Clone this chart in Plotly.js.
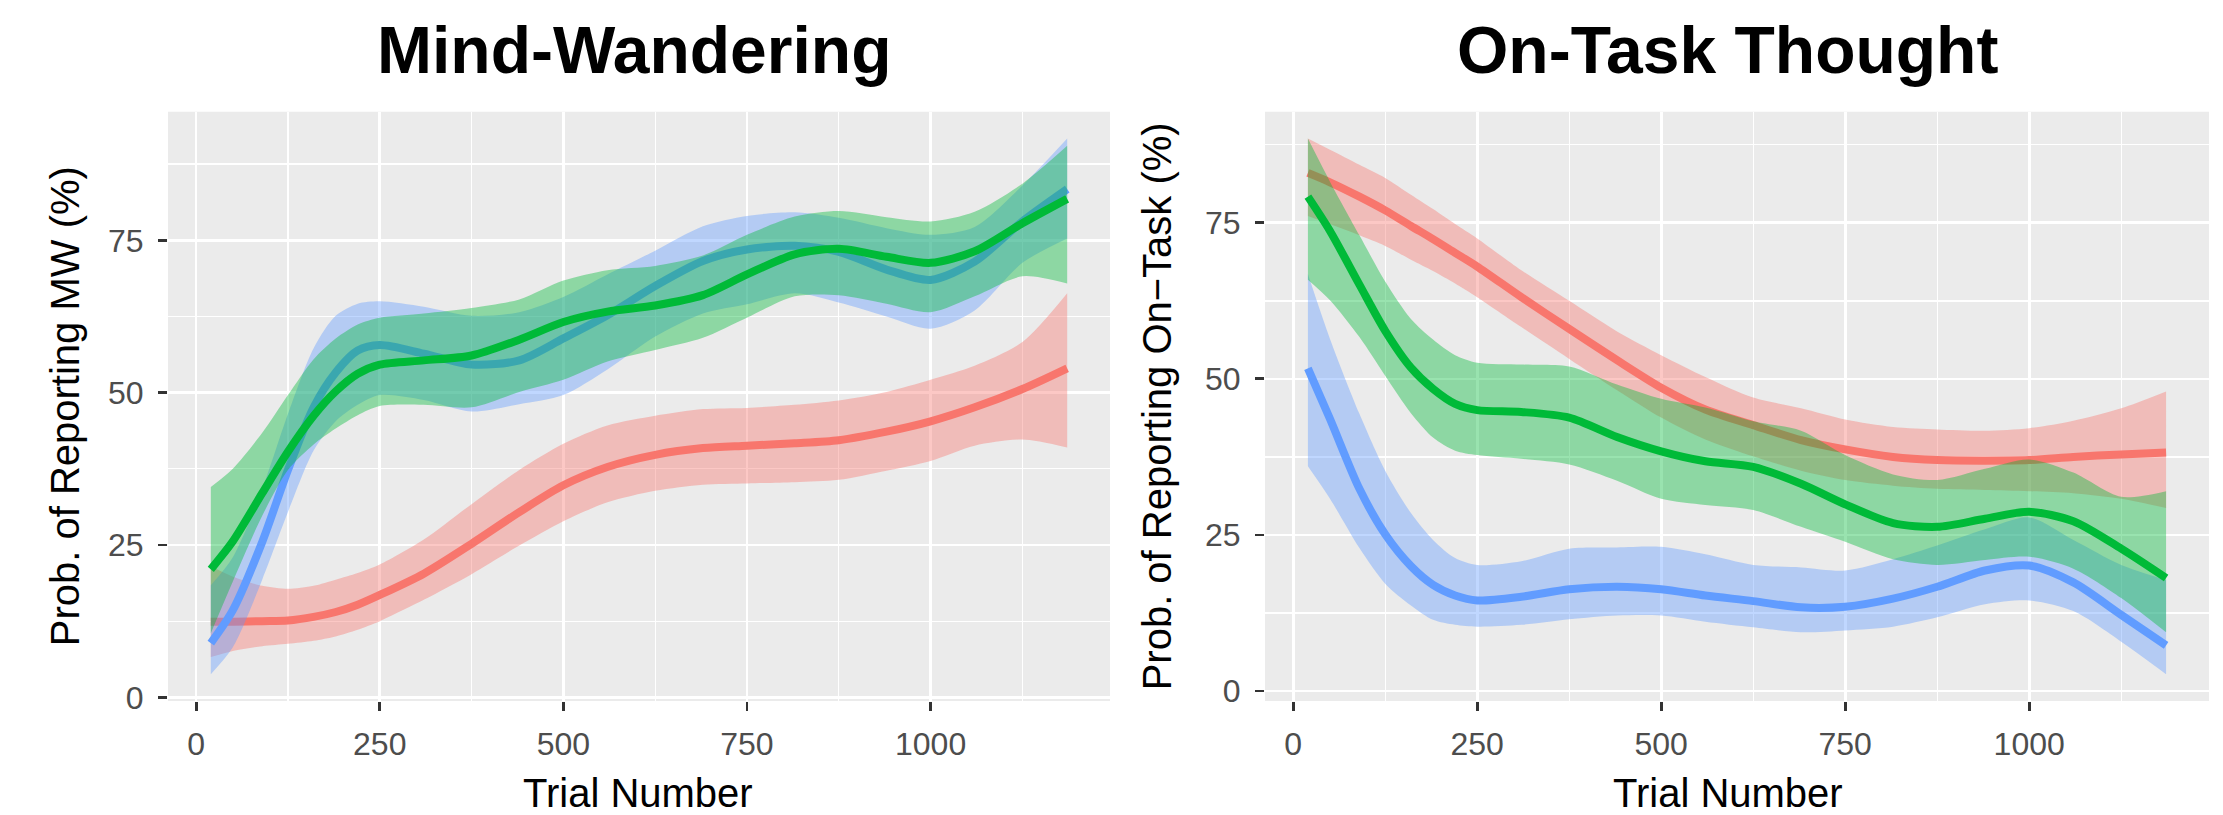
<!DOCTYPE html>
<html><head><meta charset="utf-8">
<script src="https://cdn.plot.ly/plotly-3.0.1.min.js"></script>
<style>html,body{margin:0;padding:0;background:#fff}</style>
</head><body><div id="chart" style="width:2223px;height:815px"></div>
<script>
// Trial numbers at which the smooth curves were read
const trial = [20,50,90,125,160,190,220,250,310,375,440,500,560,625,690,750,815,875,940,1000,1060,1125,1186];

// Mind-Wandering panel
const mwRedFit   = [12.4,12.4,12.5,12.6,13.2,14.0,15.2,16.8,20.3,25.2,30.4,34.8,37.8,39.8,40.9,41.3,41.7,42.2,43.6,45.3,47.6,50.6,54.0];
const mwRedUpper = [21.5,19.8,18.3,17.8,18.3,19.3,20.4,21.8,25.9,31.7,37.3,41.6,44.6,46.2,47.3,47.5,48.0,48.7,50.1,52.1,54.4,58.3,66.3];
const mwRedLower = [6.6,7.6,8.4,8.8,9.3,10.0,11.1,12.5,16.0,20.2,24.9,28.9,32.0,33.9,34.9,35.1,35.3,35.7,37.2,38.8,41.3,42.3,41.0];

const mwGreenFit   = [21.0,25.6,33.5,40.3,46.2,50.2,53.1,54.6,55.3,56.1,58.7,61.6,63.3,64.3,66.0,69.4,72.7,73.6,72.3,71.3,73.2,77.8,81.8];
const mwGreenUpper = [34.5,37.5,43.4,49.6,55.5,58.9,61.2,62.3,63.0,63.9,65.3,68.4,70.1,70.8,72.5,75.9,78.9,79.8,78.8,78.1,79.7,84.3,90.5];
const mwGreenLower = [10.5,19.0,29.8,37.3,41.5,44.1,46.3,47.8,48.0,47.6,50.1,52.1,55.1,57.0,59.0,62.3,65.8,66.0,64.6,63.2,65.8,69.1,67.9];

const mwBlueFit   = [8.9,14.3,25.5,37.3,47.6,53.3,56.9,57.8,56.4,54.6,55.3,58.9,62.7,67.5,71.6,73.5,74.1,73.1,70.2,68.5,71.5,78.1,83.4];
const mwBlueUpper = [18.4,23.0,34.2,46.5,57.3,62.6,64.6,65.0,64.1,62.6,63.2,65.7,69.4,73.3,77.3,79.0,79.6,78.7,77.0,75.9,77.2,84.0,91.7];
const mwBlueLower = [3.8,8.2,19.3,30.4,40.5,45.3,48.0,49.6,48.8,46.9,48.1,49.6,53.8,59.2,63.0,64.5,66.3,64.8,62.5,60.5,63.5,71.3,75.3];

// On-Task Thought panel
const otRedFit   = [83.0,81.5,79.2,77.0,74.5,72.4,70.2,68.0,63.1,58.0,53.0,48.6,45.1,42.6,40.2,38.7,37.5,37.0,36.9,37.0,37.5,37.9,38.2];
const otRedUpper = [88.5,86.7,84.3,82.2,79.5,77.2,74.8,72.5,67.4,62.5,57.6,53.8,50.3,47.0,45.3,43.5,42.3,41.9,41.7,42.1,43.3,45.3,48.0];
const otRedLower = [76.1,74.8,73.0,71.3,69.1,67.3,65.3,63.1,58.3,53.2,48.2,43.8,40.3,37.6,35.3,33.8,32.9,32.4,32.2,32.0,31.7,30.8,29.3];

const otGreenFit   = [79.2,73.7,65.1,57.7,51.8,48.4,46.0,45.0,44.7,43.8,40.7,38.4,36.8,35.9,33.2,29.9,26.9,26.3,27.6,28.7,27.2,22.8,18.1];
const otGreenUpper = [88.5,81.6,73.0,65.6,59.6,56.3,53.8,52.6,52.3,52.0,49.1,46.8,45.4,43.2,41.7,37.8,34.7,33.8,35.6,37.1,35.0,31.1,32.0];
const otGreenLower = [65.9,62.6,56.7,50.5,44.5,40.6,38.5,37.8,37.2,36.3,33.7,30.8,29.8,29.0,26.3,23.9,21.1,20.2,21.0,21.5,19.6,14.9,9.4];

const otBlueFit   = [51.7,43.6,32.4,25.1,20.0,17.0,15.3,14.5,15.1,16.3,16.7,16.3,15.3,14.4,13.4,13.5,14.8,16.7,19.3,20.1,17.4,12.2,7.3];
const otBlueUpper = [66.8,56.4,44.4,35.3,28.5,24.2,21.3,20.2,20.8,22.8,23.0,23.1,21.9,20.2,19.8,19.3,21.1,23.3,25.9,27.8,24.2,20.2,17.8];
const otBlueLower = [36.0,30.8,22.9,17.2,13.7,11.4,10.6,10.3,10.6,11.5,12.1,12.1,11.1,10.2,9.4,9.7,10.3,11.8,13.9,14.5,12.8,7.9,2.7];

const xTicks = [0,250,500,750,1000];
const yTicks = [0,25,50,75];

const colors = {red:'#F8766D', green:'#00BA38', blue:'#619CFF'};
const fills  = {red:'rgba(248,118,109,0.4)', green:'rgba(0,186,56,0.4)', blue:'rgba(97,156,255,0.4)'};

function band(name, color, lower, upper, fit, xa, ya) {
  return [
    {x: trial, y: lower, xaxis: xa, yaxis: ya, type: 'scatter', mode: 'lines',
     line: {width: 0, shape: 'spline', smoothing: 0.8}, hoverinfo: 'skip', showlegend: false},
    {x: trial, y: upper, xaxis: xa, yaxis: ya, type: 'scatter', mode: 'lines', fill: 'tonexty',
     fillcolor: fills[color], line: {width: 0, shape: 'spline', smoothing: 0.8}, hoverinfo: 'skip', showlegend: false},
    {x: trial, y: fit, xaxis: xa, yaxis: ya, type: 'scatter', mode: 'lines', name: name,
     line: {color: colors[color], width: 8, shape: 'spline', smoothing: 0.8}, showlegend: false}
  ];
}

const data = [].concat(
  band('Red group', 'red', mwRedLower, mwRedUpper, mwRedFit, 'x', 'y'),
  band('Blue group', 'blue', mwBlueLower, mwBlueUpper, mwBlueFit, 'x', 'y'),
  band('Green group', 'green', mwGreenLower, mwGreenUpper, mwGreenFit, 'x', 'y'),
  band('Red group', 'red', otRedLower, otRedUpper, otRedFit, 'x2', 'y2'),
  band('Blue group', 'blue', otBlueLower, otBlueUpper, otBlueFit, 'x2', 'y2'),
  band('Green group', 'green', otGreenLower, otGreenUpper, otGreenFit, 'x2', 'y2')
);

const font = 'Liberation Sans, Arial, Helvetica, sans-serif';
function xAxis(domain, anchor) {
  return {domain: domain, anchor: anchor, range: [-38.3, 1244.3], tickvals: xTicks, ticktext: xTicks.map(String),
    ticks: 'outside', ticklen: 9, tickwidth: 2.8, tickcolor: '#333333',
    tickfont: {family: font, size: 32, color: '#4D4D4D'}, ticklabelstandoff: 6,
    showgrid: true, gridcolor: '#FFFFFF', gridwidth: 2.7, zeroline: false, showline: false,
    minor: {dtick: 125, tick0: 0, showgrid: true, gridcolor: '#FFFFFF', gridwidth: 1.3, ticks: ''},
    fixedrange: true};
}
function yAxis(domain, anchor, range) {
  return {domain: domain, anchor: anchor, range: range, tickvals: yTicks, ticktext: yTicks.map(String),
    ticks: 'outside', ticklen: 9, tickwidth: 2.8, tickcolor: '#333333',
    tickfont: {family: font, size: 32, color: '#4D4D4D'}, ticklabelstandoff: 8,
    showgrid: true, gridcolor: '#FFFFFF', gridwidth: 2.7, zeroline: false, showline: false,
    minor: {dtick: 12.5, tick0: 0, showgrid: true, gridcolor: '#FFFFFF', gridwidth: 1.3, ticks: ''},
    fixedrange: true};
}

const yDom = [0.1399, 0.8629];
const layout = {
  width: 2223, height: 815, margin: {l: 0, r: 0, t: 0, b: 0},
  paper_bgcolor: '#FFFFFF', plot_bgcolor: '#EBEBEB', showlegend: false,
  xaxis: xAxis([0.07557, 0.49933], 'y'),
  yaxis: yAxis(yDom, 'x', [-0.6, 96.1]),
  xaxis2: xAxis([0.56905, 0.99370], 'y2'),
  yaxis2: yAxis(yDom, 'x2', [-1.6, 92.8]),
  annotations: [
    {text: 'Mind-Wandering', xref: 'paper', yref: 'paper', x: 0.285, y: 0.9387, xanchor: 'center', yanchor: 'middle',
     showarrow: false, font: {family: font, size: 66, color: '#000000', weight: 700}},
    {text: 'On-Task Thought', xref: 'paper', yref: 'paper', x: 0.7769, y: 0.9387, xanchor: 'center', yanchor: 'middle',
     showarrow: false, font: {family: font, size: 66, color: '#000000', weight: 700}},
    {text: 'Trial Number', xref: 'paper', yref: 'paper', x: 0.2870, y: 0.0265, xanchor: 'center', yanchor: 'middle',
     showarrow: false, font: {family: font, size: 40, color: '#000000'}},
    {text: 'Trial Number', xref: 'paper', yref: 'paper', x: 0.7773, y: 0.0265, xanchor: 'center', yanchor: 'middle',
     showarrow: false, font: {family: font, size: 40, color: '#000000'}},
    {text: 'Prob. of Reporting MW (%)', xref: 'paper', yref: 'paper', x: 0.02924, y: 0.5015, xanchor: 'center', yanchor: 'middle',
     textangle: -90, showarrow: false, font: {family: font, size: 40, color: '#000000'}},
    {text: 'Prob. of Reporting On\u2212Task (%)', xref: 'paper', yref: 'paper', x: 0.5205, y: 0.5015, xanchor: 'center', yanchor: 'middle',
     textangle: -90, showarrow: false, font: {family: font, size: 40, color: '#000000'}}
  ]
};

Plotly.newPlot('chart', data, layout, {displayModeBar: false, staticPlot: true});
</script></body></html>
